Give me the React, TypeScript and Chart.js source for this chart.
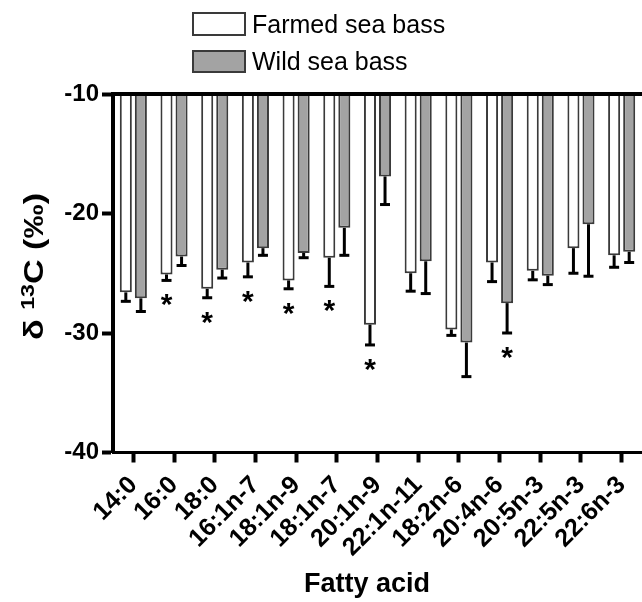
import React, { useEffect, useRef } from "react";
import { Chart, registerables } from "chart.js";
Chart.register(...registerables);

const categories = ["14:0", "16:0", "18:0", "16:1n-7", "18:1n-9", "18:1n-7", "20:1n-9", "22:1n-11", "18:2n-6", "20:4n-6", "20:5n-3", "22:5n-3", "22:6n-3"];
const farmedMean = [-26.6, -25.1, -26.3, -24.1, -25.6, -23.7, -29.3, -25.0, -29.7, -24.1, -24.8, -22.9, -23.5];
const farmedSD = [0.75, 0.5, 0.75, 1.2, 0.7, 2.4, 1.7, 1.5, 0.5, 1.6, 0.75, 2.1, 1.0];
const wildMean = [-27.1, -23.6, -24.7, -22.9, -23.3, -21.2, -16.9, -24.0, -30.8, -27.5, -25.2, -20.9, -23.2];
const wildSD = [1.1, 0.75, 0.7, 0.6, 0.4, 2.3, 2.35, 2.7, 2.85, 2.5, 0.75, 4.35, 0.9];
const farmedSig = [false, true, true, true, true, true, true, false, false, false, false, false, false];
const wildSig = [false, false, false, false, false, false, false, false, false, true, false, false, false];
const seriesLabels = ["Farmed sea bass", "Wild sea bass"];
const yMin = -40;
const yMax = -10;
const yStep = 10;
const xTitle = "Fatty acid";

const FONT = "'Liberation Sans', Arial, Helvetica, sans-serif";
const FARMED_FILL = "#ffffff";
const WILD_FILL = "#a3a3a3";
const EDGE = "#3a3a3a";

const sdList = [farmedSD, wildSD];
const meanList = [farmedMean, wildMean];
const sigList = [farmedSig, wildSig];
const fills = [FARMED_FILL, WILD_FILL];

const decorPlugin = {
  id: "decor",
  afterDatasetsDraw(chart: any) {
    const ctx = chart.ctx;
    const yScale = chart.scales.y;
    ctx.save();
    for (let d = 0; d < 2; d++) {
      const meta = chart.getDatasetMeta(d);
      meta.data.forEach((el: any, i: number) => {
        const x = el.x;
        const y0 = el.y;
        const yEnd = yScale.getPixelForValue(meanList[d][i] - sdList[d][i]);
        ctx.strokeStyle = "#000";
        ctx.lineWidth = 3;
        ctx.beginPath();
        ctx.moveTo(x, y0);
        ctx.lineTo(x, yEnd);
        ctx.stroke();
        ctx.beginPath();
        ctx.moveTo(x - 5, yEnd);
        ctx.lineTo(x + 5, yEnd);
        ctx.stroke();
        if (sigList[d][i]) {
          ctx.fillStyle = "#000";
          ctx.font = `bold 30px ${FONT}`;
          ctx.textAlign = "center";
          ctx.textBaseline = "alphabetic";
          ctx.fillText("*", x, yEnd + 17 + 17);
        }
      });
    }
    ctx.restore();
  },
  afterDraw(chart: any) {
    const ctx = chart.ctx;
    const area = chart.chartArea;
    ctx.save();
    ctx.strokeStyle = "#000";
    ctx.lineWidth = 4;
    ctx.beginPath();
    ctx.moveTo(area.left - 2, area.top);
    ctx.lineTo(area.right, area.top);
    ctx.stroke();

    const boxX = 193, boxW = 52;
    const rows = [
      { top: 13, h: 22, base: 33 },
      { top: 51, h: 21, base: 70 },
    ];
    rows.forEach((r, k) => {
      ctx.fillStyle = fills[k];
      ctx.fillRect(boxX, r.top, boxW, r.h);
      ctx.strokeStyle = EDGE;
      ctx.lineWidth = 2;
      ctx.strokeRect(boxX, r.top, boxW, r.h);
      ctx.fillStyle = "#000";
      ctx.font = `25px ${FONT}`;
      ctx.textAlign = "left";
      ctx.textBaseline = "alphabetic";
      ctx.fillText(seriesLabels[k], 252, r.base);
    });

    ctx.font = `bold 27px ${FONT}`;
    ctx.textAlign = "center";
    ctx.fillStyle = "#000";
    ctx.fillText(xTitle, 367, 592);

    const big = `bold 28px ${FONT}`;
    const small = `bold 19px ${FONT}`;
    const parts = [
      { t: "\u03b4 ", f: big, dy: 0 },
      { t: "13", f: small, dy: -9 },
      { t: "C (\u2030)", f: big, dy: 0 },
    ];
    let total = 0;
    parts.forEach((p) => { ctx.font = p.f; total += ctx.measureText(p.t).width; });
    const target = 147;
    const sx = target / total;
    ctx.translate(43, 266.5);
    ctx.rotate(-Math.PI / 2);
    ctx.scale(sx, 1);
    let cx = -total / 2;
    ctx.textAlign = "left";
    parts.forEach((p) => {
      ctx.font = p.f;
      ctx.fillText(p.t, cx, p.dy);
      cx += ctx.measureText(p.t).width;
    });
    ctx.restore();
  },
};

export default function App() {
  const ref = useRef<HTMLCanvasElement>(null);
  useEffect(() => {
    if (!ref.current) return;
    const chart = new Chart(ref.current, {
      type: "bar",
      data: {
        labels: categories,
        datasets: [
          {
            label: seriesLabels[0],
            data: farmedMean,
            backgroundColor: FARMED_FILL,
            borderColor: EDGE,
            borderWidth: 2,
            barPercentage: 0.8,
            categoryPercentage: 0.74,
          },
          {
            label: seriesLabels[1],
            data: wildMean,
            backgroundColor: WILD_FILL,
            borderColor: EDGE,
            borderWidth: 2,
            barPercentage: 0.8,
            categoryPercentage: 0.74,
          },
        ],
      },
      options: {
        animation: false,
        responsive: false,
        devicePixelRatio: 1,
        layout: { padding: { top: 94, right: 0, left: 0, bottom: 0 } },
        plugins: {
          legend: { display: false },
          tooltip: { enabled: false },
          title: { display: false },
        },
        scales: {
          x: {
            grid: {
              display: true,
              drawOnChartArea: false,
              offset: false,
              tickLength: 10,
              tickWidth: 4,
              tickColor: "#000",
            },
            border: { display: true, color: "#000", width: 3 },
            ticks: {
              color: "#000",
              font: { family: FONT, size: 25, weight: "bold" },
              minRotation: 45,
              maxRotation: 45,
              autoSkip: false,
              padding: 8,
            },
            afterFit: (s: any) => {
              s.height = 149.5;
              s.paddingLeft = 0;
              s.paddingRight = 0;
            },
          },
          y: {
            min: yMin,
            max: yMax,
            ticks: {
              stepSize: yStep,
              color: "#000",
              font: { family: FONT, size: 24, weight: "bold" },
              padding: 3,
            },
            grid: {
              drawOnChartArea: false,
              tickLength: 11,
              tickWidth: 4,
              tickColor: "#000",
            },
            border: { color: "#000", width: 4 },
            afterFit: (s: any) => {
              s.width = 113;
              s.paddingTop = 0;
              s.paddingBottom = 0;
            },
          },
        },
      },
      plugins: [decorPlugin],
    } as any);
    return () => chart.destroy();
  }, []);
  return (
    <div style={{ position: "absolute", left: 0, top: 0, width: 642, height: 602, background: "#fff" }}>
      <canvas ref={ref} width={642} height={602} />
    </div>
  );
}
